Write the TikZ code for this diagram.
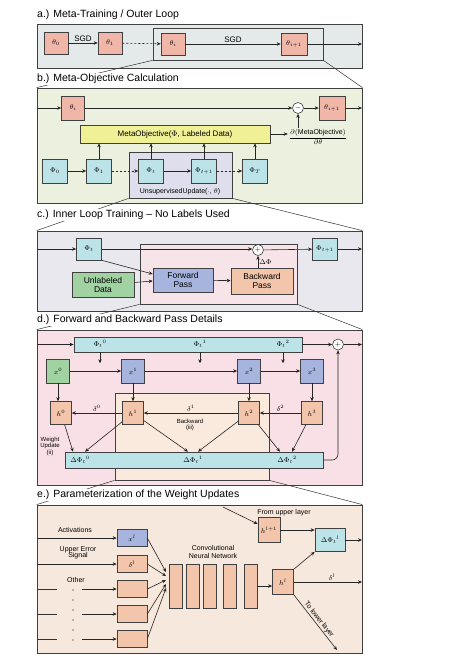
\documentclass[tikz,border=0pt]{standalone}
\usepackage{fontspec}
\setmainfont{Liberation Sans}
\usepackage{amsmath}
\usetikzlibrary{arrows.meta,positioning,calc}
\definecolor{thFill}{RGB}{240,182,168}
\definecolor{hFill}{RGB}{243,198,172}
\definecolor{phFill}{RGB}{188,228,232}
\definecolor{xBlue}{RGB}{166,180,222}
\definecolor{xGreen}{RGB}{160,210,162}
\definecolor{moYellow}{RGB}{240,240,150}
\definecolor{bgA}{RGB}{228,234,234}
\definecolor{bgB}{RGB}{236,240,222}
\definecolor{inB}{RGB}{222,222,236}
\definecolor{bgC}{RGB}{232,232,238}
\definecolor{inC}{RGB}{246,228,232}
\definecolor{bgD}{RGB}{248,224,230}
\definecolor{inD}{RGB}{250,234,222}
\definecolor{bgE}{RGB}{246,232,220}

\begin{document}
\begin{tikzpicture}[x=1pt,y=-1pt,
    panel/.style={draw=black!75,line width=0.8pt,inner sep=0pt,minimum width=325pt},
    zoombox/.style={draw=black!75,line width=0.7pt,inner sep=0pt},
    ttl/.style={anchor=west,fill=white,inner sep=1pt,font=\fontsize{10.5}{12}\selectfont},
    box/.style={draw=black!75,line width=0.6pt,inner sep=1pt,minimum width=24pt,minimum height=22pt,font=\scriptsize},
    thbox/.style={box,fill=thFill},
    phbox/.style={box,fill=phFill},
    hbox/.style={box,fill=hFill,minimum width=21pt,minimum height=23pt},
    xbox/.style={box,fill=xBlue,minimum width=23pt,minimum height=24pt},
    bigbox/.style={box,align=center,font=\fontsize{8.5}{9}\selectfont},
    sumc/.style={circle,draw=black!75,fill=white,line width=0.6pt,minimum size=11pt,inner sep=0pt,font=\scriptsize},
    lbl/.style={font=\scriptsize,inner sep=1pt},
    small/.style={font=\fontsize{6}{6.5}\selectfont,inner sep=1pt,align=center},
    arr/.style={-{Stealth[length=4pt,width=3.5pt]},line width=0.6pt,draw=black!85},
    dots/.style={dash pattern=on 2pt off 2pt},
    zl/.style={line width=0.5pt,draw=black!80}
  ]
  \useasboundingbox (0,0) rectangle (474,666);

  % a.) outer loop
  \node[panel,fill=bgA,minimum height=44pt] (pa) at (199.5,46) {};
  \node[zoombox,minimum width=170pt,minimum height=32pt] (za) at (238,44) {};
  \node[thbox] (th0) at (56,43) {$\theta_0$};
  \node[thbox] (th1) at (110,43) {$\theta_1$};
  \node[thbox] (thi) at (173,44) {$\theta_i$};
  \node[thbox,minimum width=26pt] (thn) at (294,44) {$\theta_{i+1}$};
  \coordinate (aout) at (362,44);
  \draw[arr] (th0) -- node[lbl,above,font=\footnotesize]{SGD} (th1);
  \draw[arr,dots] (th1) -- (thi);
  \draw[arr] (thi) -- node[lbl,above,font=\footnotesize]{SGD} (thn);
  \draw[arr] (thn) -- (aout);

  % b.) meta-objective
  \node[panel,fill=bgB,minimum height=115pt] (pb) at (199.5,145.5) {};
  \node[zoombox,fill=inB,minimum width=103pt,minimum height=46pt] (zb) at (180.5,175) {};
  \node[thbox,minimum width=23pt,minimum height=24pt] (tb) at (73,108) {$\theta_i$};
  \node[sumc] (msum) at (298,108) {$-$};
  \node[thbox,minimum width=26pt,minimum height=24pt] (tb1) at (332,108) {$\theta_{i+1}$};
  \node[box,fill=moYellow,minimum width=190pt,minimum height=18pt,font=\footnotesize] (mobj) at (175,134) {MetaObjective($\Phi$, Labeled Data)};
  \node[lbl] (grad) at (318,137) {$\dfrac{\partial(\text{MetaObjective})}{\partial\theta}$};
  \coordinate (bin) at (37,108);
  \coordinate (bout) at (362,108);
  \draw[arr] (bin) -- (tb);
  \draw[arr] (tb) -- (msum);
  \draw[arr] (msum) -- (tb1);
  \draw[arr] (tb1) -- (bout);
  \draw[arr] (mobj) -- (mobj -| grad.west);
  \draw[arr] (grad.north -| msum) -- (msum);
  \node[phbox,minimum width=25pt,minimum height=24pt] (p0) at (55,171) {$\Phi_0$};
  \node[phbox,minimum width=25pt,minimum height=24pt] (p1) at (99,171) {$\Phi_1$};
  \node[phbox,minimum width=25pt,minimum height=24pt] (pt) at (151,171) {$\Phi_t$};
  \node[phbox,minimum width=25pt,minimum height=24pt] (pt1) at (204,171) {$\Phi_{t+1}$};
  \node[phbox,minimum width=25pt,minimum height=24pt] (pT) at (255,171) {$\Phi_T$};
  \draw[arr] (p0) -- (p1);
  \draw[arr,dots] (p1) -- (pt);
  \draw[arr] (pt) -- (pt1);
  \draw[arr,dots] (pt1) -- (pT);
  \foreach \n in {p1,pt,pt1,pT}
    \draw[arr] (\n) -- (\n |- mobj.south);
  \node[lbl] (upd) at (180,192) {UnsupervisedUpdate($\cdot$, $\theta$)};

  % c.) inner loop
  \node[panel,fill=bgC,minimum height=80pt] (pc) at (199.5,271) {};
  \node[zoombox,fill=inC,minimum width=157pt,minimum height=60pt] (zc) at (218.5,274) {};
  \node[phbox,minimum width=25pt] (pc0) at (89,249) {$\Phi_t$};
  \node[sumc] (csum) at (258,250) {$+$};
  \node[phbox,minimum width=25pt] (pc1) at (325,249) {$\Phi_{t+1}$};
  \node[bigbox,fill=xBlue,minimum width=60pt,minimum height=24pt] (fwd) at (183,280) {Forward\\Pass};
  \node[bigbox,fill=hFill,minimum width=62pt,minimum height=26pt] (bwd) at (262,281) {Backward\\Pass};
  \node[bigbox,fill=xGreen,minimum width=62pt,minimum height=25pt] (unl) at (103,285) {Unlabeled\\Data};
  \coordinate (cin) at (37,249);
  \coordinate (cout) at (362,249);
  \draw[arr] (cin) -- (pc0);
  \draw[arr] (pc0) -- (pc0 -| csum.west);
  \draw[arr] (csum) -- (pc1);
  \draw[arr] (pc1) -- (cout);
  \draw[arr] (pc0.south east) -- ([yshift=6pt]fwd.west);
  \draw[arr] (unl) -- ([yshift=-1pt]fwd.west);
  \draw[arr] (fwd) -- (bwd);
  \draw[arr] (bwd.north -| csum) -- node[lbl,right]{$\Delta\Phi$} (csum);

  % d.) forward and backward pass
  \node[panel,fill=bgD,minimum height=155pt] (pd) at (199.5,407.5) {};
  \node[zoombox,fill=inD,minimum width=154pt,minimum height=87pt] (zd) at (192,436.5) {};
  \node[phbox,minimum width=228pt,minimum height=15pt] (wtop) at (188,344.5) {};
  \node[lbl] (f0) at (100,344) {$\Phi_t{}^0$};
  \node[lbl] (f1) at (200,344) {$\Phi_t{}^1$};
  \node[lbl] (f2) at (283,344) {$\Phi_t{}^2$};
  \node[sumc] (dsum) at (338,344.5) {$+$};
  \coordinate (din) at (37,344.5);
  \coordinate (dout) at (362,344.5);
  \draw[arr] (din) -- (wtop);
  \draw[arr] (wtop) -- (dsum);
  \draw[arr] (dsum) -- (dout);
  \foreach \n in {f0,f1,f2}
    \draw[arr] (wtop.south -| \n) -- ++(0,11);
  \node[xbox,fill=xGreen] (x0) at (58,371) {$x^0$};
  \node[xbox] (x1) at (133,371) {$x^1$};
  \node[xbox] (x2) at (249,371) {$x^2$};
  \node[xbox] (x3) at (312,371) {$x^3$};
  \node[hbox] (h0) at (61,413) {$h^0$};
  \node[hbox] (h1) at (133,413) {$h^1$};
  \node[hbox] (h2) at (249,413) {$h^2$};
  \node[hbox] (h3) at (312,413) {$h^3$};
  \draw[arr] (x0) -- (x1);
  \draw[arr] (x1) -- (x2);
  \draw[arr] (x2) -- (x3);
  \draw[arr] (x0.south) -- (x0.south |- h0.north);
  \foreach \i in {1,2,3}
    \draw[arr] (x\i) -- (h\i);
  \draw[arr] (h3) -- node[lbl,above]{$\delta^2$} (h2);
  \draw[arr] (h2) -- node[lbl,above]{$\delta^1$} (h1);
  \draw[arr] (h1) -- node[lbl,above]{$\delta^0$} (h0);
  \node[small] (bwlbl) at (190,425) {Backward\\(iii)};
  \node[phbox,minimum width=258pt,minimum height=16pt] (wbot) at (194,460) {};
  \node[lbl] (d0) at (80,460) {$\Delta\Phi_t{}^0$};
  \node[lbl] (d1) at (193,460) {$\Delta\Phi_t{}^1$};
  \node[lbl] (d2) at (287,460) {$\Delta\Phi_t{}^2$};
  \coordinate (t0) at (wbot.north -| d0);
  \coordinate (t1) at (wbot.north -| d1);
  \coordinate (t2) at (wbot.north -| d2);
  \draw[arr] (h0) -- ([xshift=-7pt]t0);
  \draw[arr] (h1) -- ([xshift=5pt]t0);
  \draw[arr] (h1) -- ([xshift=-5pt]t1);
  \draw[arr] (h2) -- ([xshift=5pt]t1);
  \draw[arr] (h2) -- ([xshift=-7pt]t2);
  \draw[arr] (h3) -- ([xshift=5pt]t2);
  \node[small] (wupd) at (50,446) {Weight\\Update\\(ii)};
  \draw[arr,rounded corners=6pt] (wbot) -- (dsum |- wbot) -- (dsum);

  % e.) weight update parameterization
  \node[panel,fill=bgE,minimum height=148pt] (pe) at (199.5,579) {};
  \node[box,fill=xBlue,minimum width=30pt,minimum height=17pt] (el) at (132,538) {$x^l$};
  \node[box,fill=hFill,minimum width=30pt,minimum height=17pt] (ed) at (132,564) {$\delta^l$};
  \node[box,fill=hFill,minimum width=30pt,minimum height=17pt] (eo1) at (132,589) {};
  \node[box,fill=hFill,minimum width=30pt,minimum height=17pt] (eo2) at (132,614) {};
  \node[box,fill=hFill,minimum width=30pt,minimum height=17pt] (eo3) at (132,639) {};
  \node[lbl] (lact) at (75,530) {Activations};
  \node[lbl,align=center] (lerr) at (78,553) {Upper Error\\[-2pt]Signal};
  \node[lbl] (loth) at (76,580) {Other};
  \coordinate (ea) at (37,538);
  \coordinate (eb) at (37,564);
  \coordinate (ec) at (37,589);
  \coordinate (ee2) at (37,614);
  \coordinate (ee3) at (37,639);
  \draw[arr] (ea) -- (el);
  \draw[arr] (eb) -- (ed);
  \foreach \n/\c in {eo1/ec,eo2/ee2,eo3/ee3} {
    \draw[zl,line width=0.6pt] (\c) -- ++(20,0);
    \draw[arr] ([xshift=45pt]\c) -- (\n);
  }
  \foreach \y in {590,600,...,640}
    \fill (73,\y) circle (0.7pt);
  \coordinate (cv) at (166,578);
  \foreach \n/\s in {el/6,ed/2,eo1/-2,eo2/-6,eo3/-10}
    \draw[arr] (\n.east) -- ([yshift=\s pt]cv);
  \foreach \i/\x in {1/175.5,2/192.5,3/210,4/229.5,5/250.5}
    \node[box,fill=hFill,minimum width=13pt,minimum height=44pt] (c\i) at (\x,586) {};
  \node[lbl,align=center] (cnn) at (213,552) {Convolutional\\Neural Network};
  \node[box,fill=hFill,minimum width=21pt,minimum height=25pt] (hl) at (283,582) {$h^l$};
  \node[box,fill=hFill,minimum width=22pt,minimum height=25pt] (hup) at (269,530) {$h^{l+1}$};
  \node[box,fill=phFill,minimum width=30pt,minimum height=23pt] (dphi) at (330,540) {$\Delta\Phi_t{}^l$};
  \node[lbl] (lup) at (284,513) {From upper layer};
  \coordinate (eup) at (223,507);
  \coordinate (eo) at (362,540);
  \coordinate (edl) at (362,582);
  \coordinate (elow) at (337,650);
  \draw[arr] (c5.east) -- (c5.east -| hl.west);
  \draw[arr] (eup) -- ([yshift=6pt]hup.west);
  \draw[arr] (hup.east) -- (hup.east -| dphi.west);
  \draw[arr] (dphi) -- (eo);
  \draw[arr] (hl.north east) -- (dphi.south west);
  \draw[arr] (hl) -- node[lbl,above,pos=0.56]{$\delta^l$} (edl);
  \draw[arr] (hl.south east) -- node[lbl,sloped,above]{To lower layer} (elow);

  % zoom lines between panels
  \draw[zl] (za.south west) -- (pb.north west);
  \draw[zl] (za.south east) -- (pb.north east);
  \draw[zl] (zb.south west) -- (pc.north west);
  \draw[zl] (zb.south east) -- (pc.north east);
  \draw[zl] (zc.south west) -- (pd.north west);
  \draw[zl] (zc.south east) -- (pd.north east);
  \draw[zl] (zd.south west) -- (pe.north west);
  \draw[zl] (zd.south east) -- (pe.north east);

  % titles
  \node[ttl] (ta) at (36,15) {a.) Meta-Training / Outer Loop};
  \node[ttl] (tbt) at (36,79) {b.) Meta-Objective Calculation};
  \node[ttl] (tc) at (36,215) {c.) Inner Loop Training -- No Labels Used};
  \node[ttl] (td) at (36,320) {d.) Forward and Backward Pass Details};
  \node[ttl] (te) at (36,495) {e.) Parameterization of the Weight Updates};
\end{tikzpicture}
\end{document}
